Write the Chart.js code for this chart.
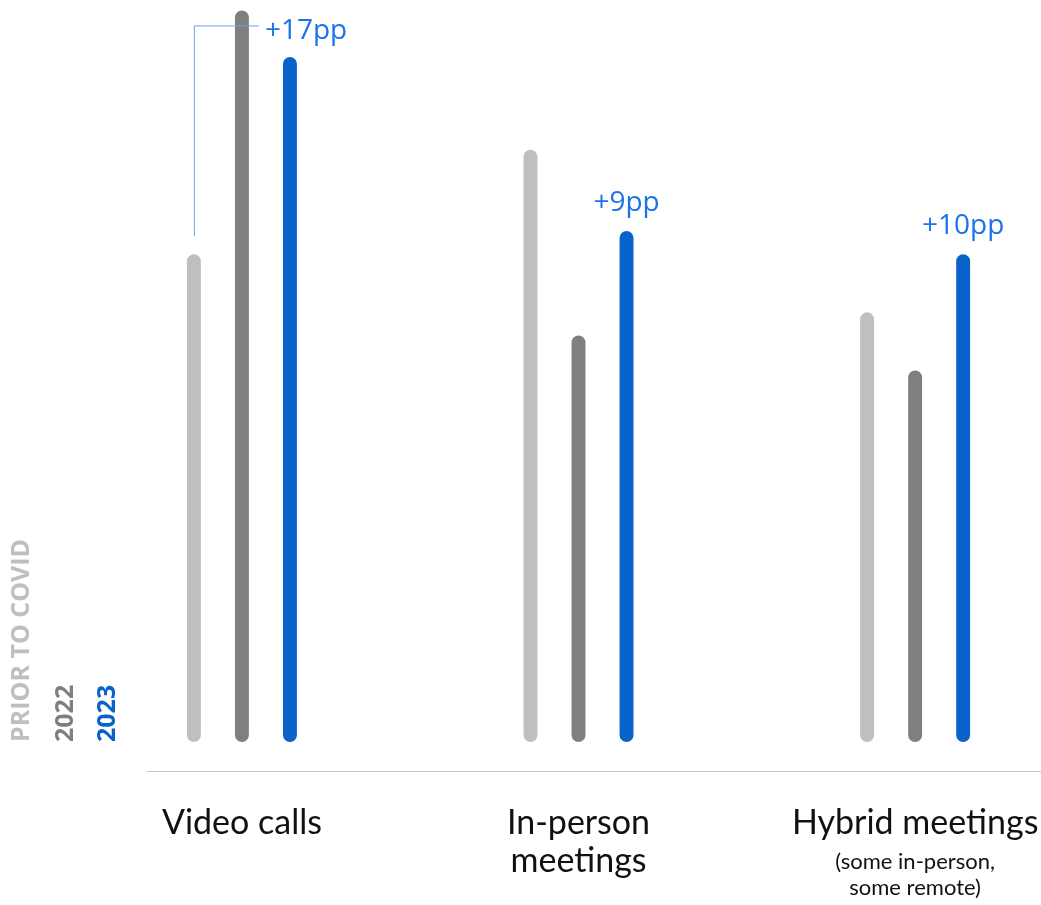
<!DOCTYPE html>
<html>
<head>
<meta charset="utf-8">
<script src="https://cdn.jsdelivr.net/npm/chart.js@4"></script>
<style>
  html, body { margin:0; padding:0; background:#fff; }
  #wrap { width:1041px; height:905px; }
</style>
</head>
<body>
<div id="wrap"><canvas id="meetChart" width="1041" height="905"></canvas></div>
<script>
// data (percentage points)
const categoryLines = [["Video calls"], ["In-person", "meetings"], ["Hybrid meetings"]];
const categoryNotes = [[], [], ["(some in-person,", "some remote)"]];
const seriesNames = ["PRIOR TO COVID", "2022", "2023"];
const priorToCovid = [42, 51, 37];
const year2022 = [63, 35, 32];
const year2023 = [59, 44, 42];
const changeLabels = ["+17pp", "+9pp", "+10pp"];

const seriesColors = ["#bfbfbf", "#7f7f7f", "#0a63cb"];
const noteBlue = "#1a73e8";

const seriesValues = [priorToCovid, year2022, year2023];

const drawExtras = {
    id: "drawExtras",
    afterDatasetsDraw(chart) {
        const c = chart.ctx;
        const area = chart.chartArea;
        const yScale = chart.scales.y;
        const zeroY = yScale.getPixelForValue(0);
        const metas = [0, 1, 2].map(d => chart.getDatasetMeta(d));

        c.save();

        // baseline
        c.strokeStyle = "#c8c8c8";
        c.lineWidth = 1.2;
        c.beginPath();
        c.moveTo(area.left, area.bottom + 0.5);
        c.lineTo(chart.width, area.bottom + 0.5);
        c.stroke();

        // category labels
        c.fillStyle = "#111";
        c.textAlign = "center";
        c.textBaseline = "middle";
        categoryLines.forEach((lines, i) => {
            const cx = metas[1].data[i].x;
            c.font = "34px Lato";
            lines.forEach((t, k) => c.fillText(t, cx, 823 + k * 38));
            c.font = "22px Lato";
            categoryNotes[i].forEach((t, k) => c.fillText(t, cx, 862 + k * 26));
        });

        // rotated legend
        c.font = "bold 25px 'Open Sans'";
        c.textAlign = "left";
        c.textBaseline = "middle";
        const legendX = [22, 66, 108];
        seriesNames.forEach((name, d) => {
            c.save();
            c.translate(legendX[d], zeroY);
            c.rotate(-Math.PI / 2);
            c.fillStyle = seriesColors[d];
            c.fillText(name, 0, 0);
            c.restore();
        });

        // change labels
        c.font = "28px 'Open Sans'";
        c.fillStyle = noteBlue;
        c.textBaseline = "alphabetic";
        changeLabels.forEach((label, i) => {
            const bar23 = metas[2].data[i];
            if (i === 0) {
                const prior = metas[0].data[i];
                const bar22 = metas[1].data[i];
                const lineY = bar22.y + 15;
                c.strokeStyle = "#6fa5ea";
                c.lineWidth = 1;
                c.beginPath();
                c.moveTo(prior.x + 0.5, prior.y - 18);
                c.lineTo(prior.x + 0.5, lineY + 0.5);
                c.lineTo(bar22.x + 17, lineY + 0.5);
                c.stroke();
                c.textAlign = "left";
                c.fillText(label, bar22.x + 23, bar22.y + 29);
            } else {
                c.textAlign = "center";
                c.fillText(label, bar23.x, bar23.y - 20);
            }
        });

        c.restore();
    }
};

new Chart(document.getElementById("meetChart"), {
    type: "bar",
    data: {
        datasets: seriesNames.map((name, d) => ({
            label: name,
            data: seriesValues[d].map((v, i) => ({ x: i, y: v })),
            backgroundColor: seriesColors[d],
            borderRadius: 7,
            borderSkipped: false,
            barPercentage: 0.29,
            categoryPercentage: 0.428
        }))
    },
    options: {
        responsive: false,
        devicePixelRatio: 1,
        animation: false,
        layout: { padding: { left: 147, right: 1, top: 0, bottom: 134 } },
        plugins: {
            legend: { display: false },
            tooltip: { enabled: false }
        },
        scales: {
            x: {
                type: "linear", min: -0.282, max: 2.371, offset: false, display: false,
                afterBuildTicks: axis => { axis.ticks = [0, 1, 2].map(v => ({ value: v })); }
            },
            y: { min: -2.5, max: 63.9, display: false }
        }
    },
    plugins: [drawExtras]
});
</script>
</body>
</html>
